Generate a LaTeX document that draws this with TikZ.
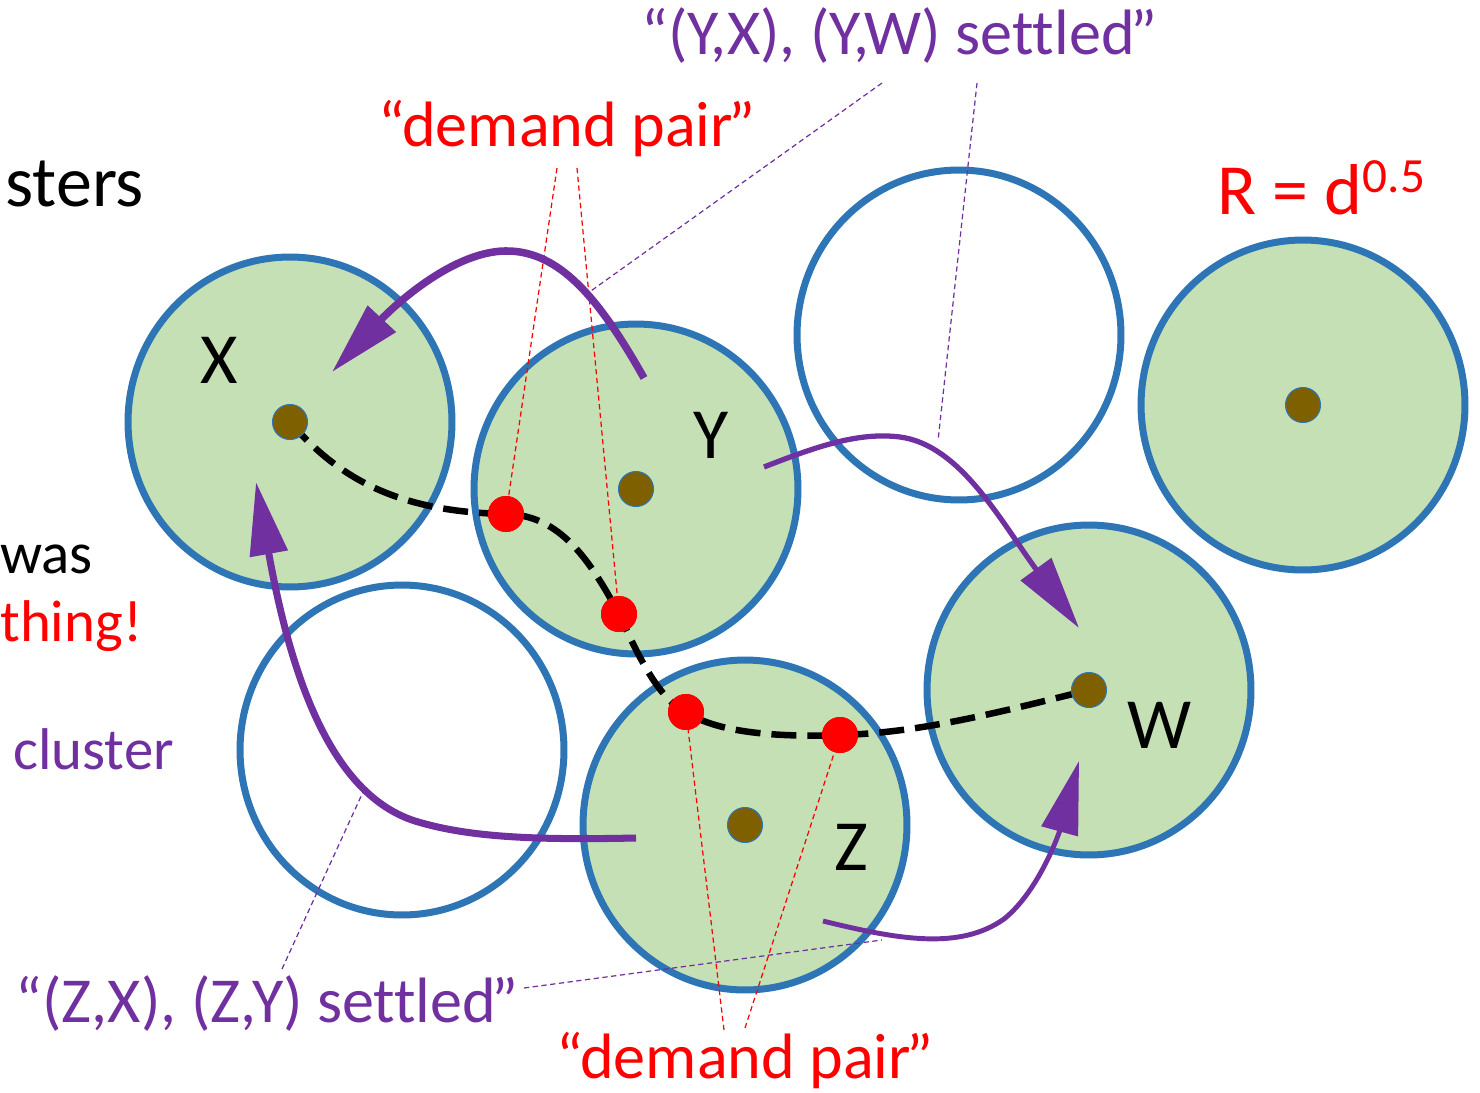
\documentclass[tikz,border=0pt]{standalone}
\usepackage{fontspec}
\setmainfont{Carlito}[Ligatures=NoCommon]
\usetikzlibrary{arrows.meta,shapes.geometric}
\definecolor{cblue}{HTML}{2E75B6}
\definecolor{cgreen}{HTML}{C5E0B4}
\definecolor{cbrown}{HTML}{7F6000}
\definecolor{cpurple}{HTML}{7030A0}
\definecolor{cred}{HTML}{FF0000}
\newcommand{\closeq}{\kern-0.07em”}

\begin{document}
\begin{tikzpicture}[x=0.02cm,y=-0.02cm,
  cluster/.style={draw=cblue,line width=0.14cm,ellipse,fill=cgreen,
    minimum width=6.48cm,minimum height=6.6cm,inner sep=0pt},
  ghost/.style={cluster,fill=none},
  centre/.style={circle,draw=cblue,line width=0.6pt,fill=cbrown,
    minimum size=0.7cm,inner sep=0pt},
  reddot/.style={circle,fill=cred,minimum size=0.72cm,inner sep=0pt},
  letter/.style={font=\fontsize{41}{44}\selectfont},
  txt/.style={anchor=base west,inner sep=0pt,font=\fontsize{36.5}{40}\selectfont},
  side/.style={txt,font=\fontsize{33.5}{38}\selectfont},
  route/.style={black,line width=0.13cm,dash pattern=on 0.5cm off 0.22cm},
  move/.style={cpurple,line width=4.3pt,-{Triangle[length=1.46cm,width=0.74cm]}},
  thinmove/.style={move,line width=3pt},
  lead/.style={line width=0.7pt,dash pattern=on 3pt off 2pt}]
\useasboundingbox (0,0) rectangle (1480,1092);

% clusters
\node[cluster] (X) at (290,422) {};
\node[cluster] (Y) at (636,489) {};
\node[ghost] (E1) at (959,335) {};
\node[cluster] (R) at (1303,405) {};
\node[cluster] (W) at (1089,690) {};
\node[cluster] (Z) at (745,825) {};
\node[ghost] (E2) at (402,750) {};

\node[letter] (xl) at (219,360) {X};
\node[letter] (yl) at (711,435) {Y};
\node[letter] (wl) at (1160,725) {W};
\node[letter] (zl) at (851,847) {Z};

% leader ends
\coordinate (dt1) at (557,168);
\coordinate (dt2) at (577,168);
\coordinate (db1) at (724,1030);
\coordinate (db2) at (745,1028);
\coordinate (yt1) at (882,83);
\coordinate (yt2) at (977,83);
\coordinate (zb1) at (282,969);
\coordinate (zb2) at (524,988);
\coordinate (py1) at (588,293);
\coordinate (py2) at (938,441);
\coordinate (pz1) at (363,792);
\coordinate (pz2) at (882,940);

% demand pair points
\node[reddot] (p1) at (506,514) {};
\node[reddot] (p2) at (619,614) {};
\node[reddot] (p3) at (686,712) {};
\node[reddot] (p4) at (840,735) {};

\draw[lead,cred] (dt1) -- (p1);
\draw[lead,cred] (dt2) -- (p2);
\draw[lead,cred] (db1) -- (p3);
\draw[lead,cred] (db2) -- (p4);
\draw[lead,cpurple] (yt1) -- (py1);
\draw[lead,cpurple] (yt2) -- (py2);
\draw[lead,cpurple] (zb1) -- (pz1);
\draw[lead,cpurple] (zb2) -- (pz2);

\draw[route] (X.center) .. controls (340,480) and (400,512) .. (p1.center)
  .. controls (560,515) and (590,560) .. (p2.center)
  .. controls (640,660) and (660,700) .. (p3.center)
  .. controls (720,735) and (790,737) .. (p4.center)
  .. controls (920,733) and (1000,712) .. (W.center);

\node[centre] (xc) at (X) {};
\node[centre] (yc) at (Y) {};
\node[centre] (rc) at (R) {};
\node[centre] (wc) at (W) {};
\node[centre] (zc) at (Z) {};
\foreach \p in {p1,p2,p3,p4}
  \fill[cred] (\p) circle (0.36cm);

% moves
\coordinate (a1s) at (644,378);
\coordinate (a1m) at (505,251);
\coordinate (a1e) at (332,372);
\coordinate (a2s) at (764,467);
\coordinate (a2m) at (900,437);
\coordinate (a2e) at (1079,628);
\coordinate (a3s) at (636,838);
\coordinate (a3m) at (415,821);
\coordinate (a3e) at (256,482);
\coordinate (a4s) at (823,921);
\coordinate (a4m) at (1004,919);
\coordinate (a4e) at (1079,761);
\draw[move] (a1s) .. controls (600,300) and (560,250) .. (a1m)
  .. controls (450,252) and (390,310) .. (a1e);
\draw[thinmove] (a2s) .. controls (820,445) and (860,432) .. (a2m)
  .. controls (960,445) and (1000,520) .. (a2e);
\draw[move,line width=4pt] (a3s) .. controls (540,840) and (470,838) .. (a3m)
  .. controls (340,797) and (295,700) .. (a3e);
\draw[thinmove,line width=2.8pt] (a4s) .. controls (900,940) and (960,950) .. (a4m)
  .. controls (1040,890) and (1060,830) .. (a4e);

% texts
\node[txt,font=\fontsize{41}{44}\selectfont] (sters) at (5,206) {sters};
\node[side] (was) at (0,573) {was};
\node[side,text=cred] (thing) at (0,641) {thing!};
\node[side,text=cpurple] (clu) at (13,769) {cluster};
\node[txt,text=cpurple] (zset) at (15,1022) {“(Z,X), (Z,Y) settled\closeq};
\node[txt,text=cpurple] (yset) at (641,54) {“(Y,X), (Y,W) settled\closeq};
\node[txt,text=cred] (dtop) at (378,146) {“demand pair\closeq};
\node[txt,text=cred] (dbot) at (556,1078) {“demand pair\closeq};
\node[txt,text=cred,font=\fontsize{41}{44}\selectfont] (rad) at (1217,214)
  {R = d\raisebox{12pt}{\fontsize{28}{30}\selectfont 0.5}};
\end{tikzpicture}
\end{document}
